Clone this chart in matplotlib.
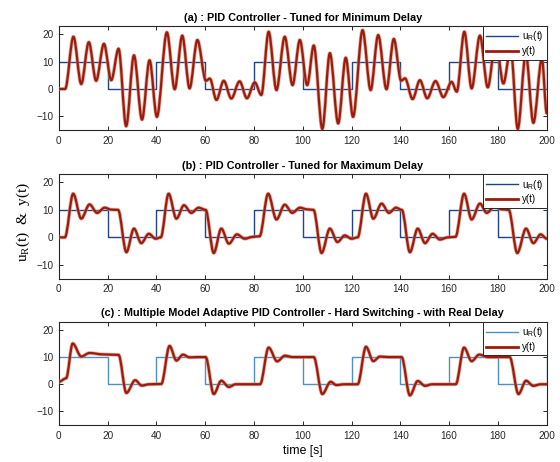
import matplotlib
matplotlib.use("Agg")
import matplotlib.pyplot as plt
from matplotlib.path import Path
from matplotlib.patches import PathPatch
from matplotlib.lines import Line2D

# Reference square wave u_R(t): level held from each switching time
switch_times = [0, 20, 40, 60, 80, 100, 120, 140, 160, 180, 200]
u_levels = [10, 0, 10, 0, 10, 0, 10, 0, 10, 0, 10]

# Output y(t): turning points of the response, (time, value)
t_a = [0, 2.6, 6.0, 9.2, 12.3, 15.3, 18.5, 21.5, 24.5, 27.6, 30.8, 34.1, 37.2, 40.2,
       44.3, 47.5, 50.6, 53.6, 56.8, 60.3, 61.9, 64.6, 67.6, 70.7, 74.1, 77.1, 80.3,
       83.0, 86.0, 89.2, 92.6, 95.8, 98.8, 101.8, 104.5, 108.0, 111.1, 114.5, 117.6,
       120.6, 124.5, 127.8, 130.9, 134.3, 137.3, 140.3, 141.9, 145.0, 148.0, 151.0,
       154.4, 157.6, 161.0, 163.1, 166.2, 169.2, 172.6, 175.8, 179.1, 182.2, 185.2,
       188.1, 191.4, 194.5, 198.0, 200.0]
y_a = [0, 0, 19.1, 1.8, 17.1, 3.0, 16.5, 3.2, 14.7, -13.6, 12.3, -11.2, 10.5, -10.2,
       20.7, -0.1, 19.5, 0.2, 17.9, 3.0, 3.8, -4.0, 3.0, -3.5, 2.8, -3.4, 2.4,
       -2.2, 20.9, -0.4, 19.1, 1.4, 17.9, 1.4, 15.9, -14.6, 13.1, -12.6, 11.4,
       -10.2, 21.5, -0.4, 19.7, -0.1, 18.3, 3.0, 3.9, -3.7, 3.2, -3.4,
       2.9, -3.0, 2.6, -1.0, 20.9, 0.2, 19.5, 0.6, 17.7, 2.0, 14.7,
       -14.6, 12.9, -12.4, 11.1, -8.9]

t_b = [0, 2.5, 5.9, 9.2, 12.6, 15.7, 18.8, 21.5, 24.3, 27.7, 30.8, 33.8, 36.9, 39.7,
       41.8, 45.0, 48.2, 51.3, 54.3, 57.3, 60.2, 63.5, 66.6, 69.7, 73.0, 76.2, 79.5,
       82.3, 85.8, 89.2, 92.6, 95.7, 98.8, 101.8, 104.4, 107.7, 111.1, 114.2, 117.2,
       120.0, 122.5, 125.9, 128.9, 132.3, 135.3, 138.2, 140.6, 143.9, 147.1, 150.1,
       153.2, 156.2, 159.5, 162.6, 166.1, 169.2, 172.6, 175.4, 178.4, 181.5, 184.4,
       187.9, 191.5, 194.5, 197.5, 200.0]
y_b = [0, 0, 15.9, 6.8, 12.0, 8.9, 10.8, 10.1, 10.0, -5.4, 3.2, -2.1, 1.3, -0.5,
       0.0, 15.9, 6.8, 11.7, 8.9, 10.8, 10.0, -5.7, 3.2, -2.3, 1.1, -0.5, 0.2,
       0.4, 15.9, 6.5, 11.9, 8.9, 10.8, 10.2, 10.0, -5.7, 3.2, -1.7, 0.7,
       -0.5, 0.0, 15.9, 6.8, 12.3, 8.9, 10.8, 10.0, -5.4, 3.2, -2.1,
       1.3, -0.8, 0.0, 0.2, 15.9, 6.5, 12.3, 8.9, 11.1, 10.2, 10.0,
       -5.7, 3.2, -2.1, 1.1, -0.5]

t_c = [0, 3.0, 5.7, 9.2, 12.6, 18.0, 24.5, 27.7, 31.3, 34.0, 37.0, 42.0, 45.4, 48.2,
       50.9, 53.6, 57.0, 60.2, 63.5, 66.6, 69.7, 72.5, 82.5, 86.0, 89.5, 92.6, 96.0,
       104.5, 108.0, 111.4, 113.8, 117.0, 122.5, 125.9, 128.9, 131.6, 135.0, 140.5,
       143.9, 147.1, 150.1, 153.0, 162.7, 166.1, 169.2, 172.3, 176.0, 184.8, 188.4,
       191.5, 194.5, 197.5, 200.0]
y_c = [0.9, 2.2, 15.0, 10.2, 11.5, 11.0, 10.8, -3.2, 1.5, -0.5, 0.0, 0.1, 14.1, 8.7,
       10.9, 9.9, 10.0, 10.0, -3.6, 1.3, -1.0, 0.0, 0.0, 13.5, 8.4, 10.5, 10.0,
       10.0, -3.6, 0.9, -0.3, 0.0, 0.0, 13.8, 8.5, 10.2, 10.0, 10.0,
       -4.1, 1.2, -0.6, 0.0, 0.0, 13.5, 8.5, 10.9, 10.0, 10.0, -3.6,
       1.3, -0.6, 0.0, 0.0]

titles = [
    "(a) : PID Controller - Tuned for Minimum Delay",
    "(b) : PID Controller - Tuned for Maximum Delay",
    "(c) : Multiple Model Adaptive PID Controller - Hard Switching - with Real Delay",
]

SANS = "Liberation Sans"
SERIF = "Liberation Serif"
RED = "#9c1b0c"
RED_HALO = "#d58a72"
BLUE_DARK = "#1f4586"
BLUE_LIGHT = "#4d8fc6"


def response_path(t, y):
    """Smooth Bezier path through turning points with flat tangents at each one."""
    verts = [(t[0], y[0])]
    codes = [Path.MOVETO]
    for i in range(1, len(t)):
        dt = t[i] - t[i - 1]
        verts += [(t[i - 1] + dt / 3.0, y[i - 1]), (t[i] - dt / 3.0, y[i]), (t[i], y[i])]
        codes += [Path.CURVE4] * 3
    return Path(verts, codes)


fig = plt.figure(figsize=(5.6, 4.62), dpi=100)
positions = [
    [0.105, 0.7186, 0.8714, 0.225],
    [0.105, 0.397, 0.8714, 0.226],
    [0.105, 0.080, 0.8714, 0.2236],
]
series = [(t_a, y_a, BLUE_DARK), (t_b, y_b, BLUE_DARK), (t_c, y_c, BLUE_LIGHT)]

for pos, title, (tt, yy, bcol) in zip(positions, titles, series):
    ax = fig.add_axes(pos)
    ax.step(switch_times, u_levels, where="post", color=bcol, lw=1.0, zorder=2)
    ax.add_patch(PathPatch(response_path(tt, yy), fill=False, edgecolor=RED_HALO,
                           lw=2.7, alpha=0.7, capstyle="round", joinstyle="round", zorder=3))
    ax.add_patch(PathPatch(response_path(tt, yy), fill=False, edgecolor=RED,
                           lw=1.6, capstyle="round", joinstyle="round", zorder=4))
    ax.set_xlim(0, 200)
    ax.set_ylim(-15, 23)
    ax.set_xticks(range(0, 201, 20))
    ax.set_yticks([-10, 0, 10, 20])
    ax.tick_params(direction="in", top=True, right=True, length=3, width=0.7,
                   labelsize=7.2, colors="#262626", pad=4)
    for lab in ax.get_xticklabels() + ax.get_yticklabels():
        lab.set_fontfamily(SANS)
    for sp in ax.spines.values():
        sp.set_color("#262626")
        sp.set_linewidth(0.8)
    ax.set_title(title, fontsize=7.8, fontweight="bold", family=SANS, pad=4)
    handles = [Line2D([], [], color=bcol, lw=1.0),
               Line2D([], [], color=RED, lw=2.0)]
    leg = ax.legend(handles, [r"u$\mathregular{_R}$(t)", "y(t)"], loc="upper right",
                    borderaxespad=0, fancybox=False, framealpha=1, edgecolor="#262626",
                    prop={"family": SANS, "size": 7}, handlelength=3.3,
                    handletextpad=0.4, borderpad=0.35, labelspacing=0.3)
    leg.get_frame().set_linewidth(0.7)
    if title.startswith("(c)"):
        ax.set_xlabel("time [s]", fontsize=8.8, family=SANS, labelpad=3)

fig.text(0.042, 0.52, r"u$\mathregular{_R}$(t)  &  y(t)", rotation=90,
         ha="center", va="center", fontsize=11, family=SERIF)

fig.savefig("out.png", dpi=100)
